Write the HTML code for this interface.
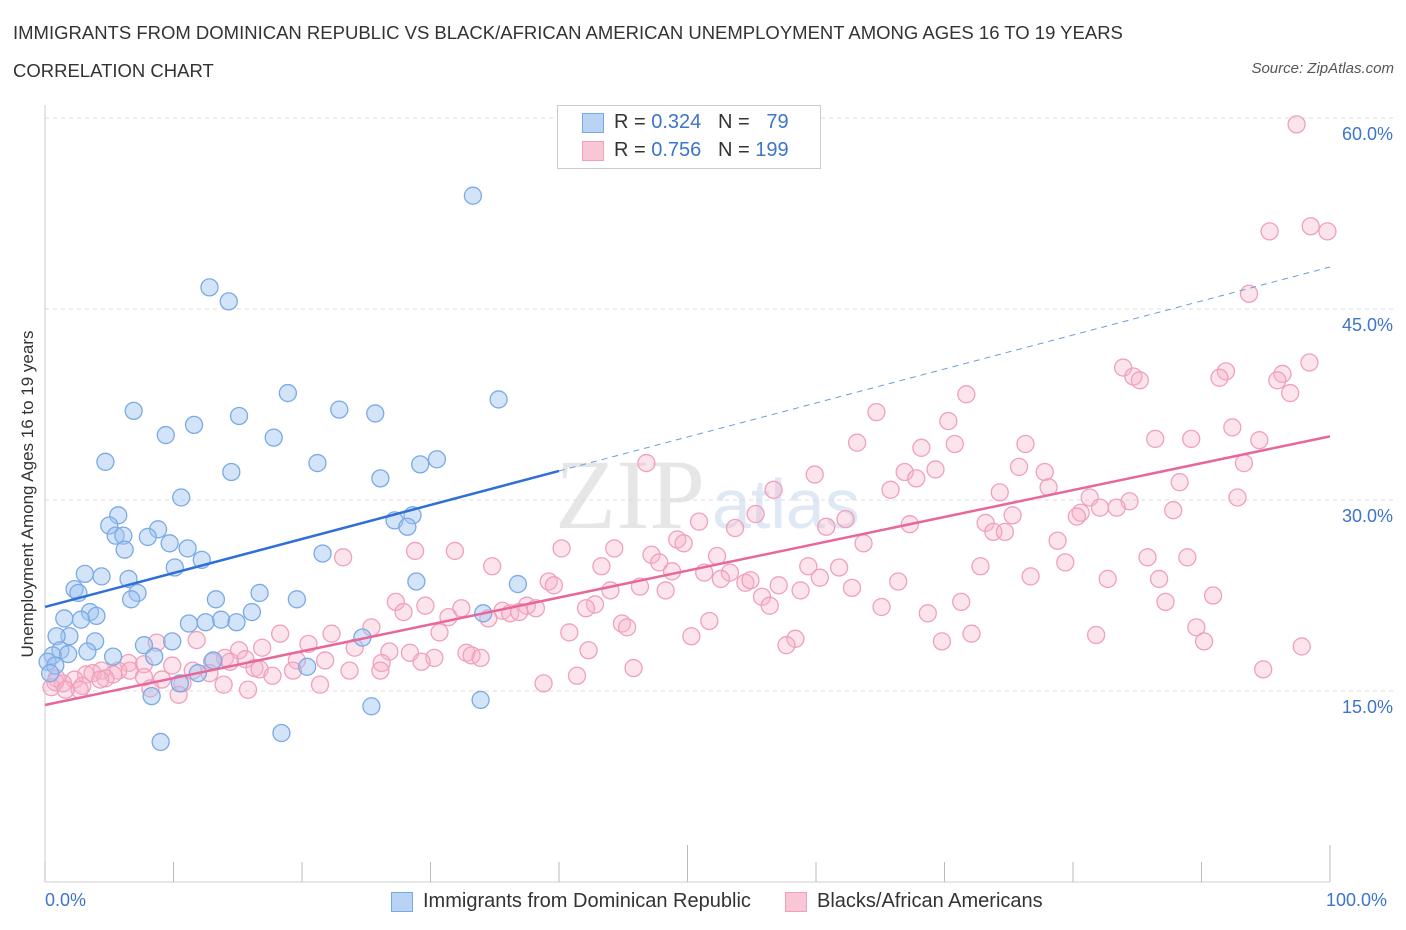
<!DOCTYPE html>
<html><head><meta charset="utf-8">
<style>
html,body{margin:0;padding:0;background:#fff;}
body{width:1406px;height:930px;position:relative;font-family:"Liberation Sans",sans-serif;overflow:hidden;}
.t{position:absolute;white-space:nowrap;}
</style></head>
<body>
<div class="t" style="left:13px;top:22px;font-size:18.5px;color:#333;">IMMIGRANTS FROM DOMINICAN REPUBLIC VS BLACK/AFRICAN AMERICAN UNEMPLOYMENT AMONG AGES 16 TO 19 YEARS</div>
<div class="t" style="left:13px;top:60px;font-size:18.5px;color:#333;">CORRELATION CHART</div>
<div class="t" style="right:12px;top:60px;font-size:15px;color:#555;font-style:italic;">Source: ZipAtlas.com</div>
<svg id="chart" width="1406" height="930" style="position:absolute;left:0;top:0">
<text x="555" y="528" font-size="100" fill="#e6e6e6" font-family="Liberation Serif,serif">ZIP</text>
<text x="712" y="528" font-size="70" fill="#dfe8f5" font-family="Liberation Sans,sans-serif">atlas</text>
<g id="grid"></g><g id="marks"></g><g id="trends"></g>
</svg>
<div class="t" style="left:28px;top:494px;font-size:17px;color:#333;transform:translate(-50%,-50%) rotate(-90deg);">Unemployment Among Ages 16 to 19 years</div>
<div style="position:absolute;left:557px;top:105px;width:262px;height:62px;border:1px solid #ccc;background:#fff;"></div>
<div style="position:absolute;left:582px;top:113px;width:20px;height:18px;background:#b9d3f5;border:1px solid #7aaae6;"></div>
<div class="t" style="left:614px;top:111px;font-size:20px;color:#333;">R = <span style="color:#3d74cc">0.324</span>&nbsp;&nbsp;&nbsp;N = &nbsp;&nbsp;<span style="color:#3d74cc">79</span></div>
<div style="position:absolute;left:582px;top:141px;width:20px;height:18px;background:#f9c6d5;border:1px solid #f0a0bc;"></div>
<div class="t" style="left:614px;top:139px;font-size:20px;color:#333;">R = <span style="color:#3d74cc">0.756</span>&nbsp;&nbsp;&nbsp;N = <span style="color:#3d74cc">199</span></div>
<div class="t" style="left:45px;top:890px;font-size:18px;color:#3d74cc;">0.0%</div>
<div class="t" style="left:1326px;top:890px;font-size:18px;color:#3d74cc;">100.0%</div>
<div style="position:absolute;left:391px;top:892px;width:20px;height:18px;background:#b9d3f5;border:1px solid #7aaae6;"></div>
<div class="t" style="left:423px;top:890px;font-size:20px;color:#333;">Immigrants from Dominican Republic</div>
<div style="position:absolute;left:785px;top:892px;width:20px;height:18px;background:#f9c6d5;border:1px solid #f0a0bc;"></div>
<div class="t" style="left:817px;top:890px;font-size:20px;color:#333;">Blacks/African Americans</div>
<script>
const yTicks=[15,30,45,60];
const yTickLabels=["15.0%","30.0%","45.0%","60.0%"];
const xTicks=[0,10,20,30,40,50,60,70,80,90,100];
const blueX=[33.3,12.8,14.3,18.9,6.9,22.9,25.7,35.3,15.1,11.6,9.4,17.8,4.7,21.2,30.5,29.2,14.5,26.1,10.6,5.7,28.6,27.2,28.2,5.0,8.8,5.5,6.1,8.0,9.7,11.1,6.2,21.6,12.2,10.1,3.1,4.4,6.5,28.9,36.8,2.3,2.6,7.2,16.7,6.7,13.3,19.6,16.1,3.5,4.0,1.5,2.8,34.1,13.7,14.9,11.2,12.5,1.9,0.9,3.9,24.7,9.9,7.7,1.2,3.3,0.6,1.8,5.3,8.5,0.2,0.8,13.1,20.4,0.4,11.9,10.5,8.3,25.4,33.9,9.0,18.4];
const blueY=[53.9,46.7,45.6,38.4,37.0,37.1,36.8,37.9,36.6,35.9,35.1,34.9,33.0,32.9,33.2,32.8,32.2,31.7,30.2,28.8,28.8,28.4,27.9,28.0,27.7,27.2,27.2,27.1,26.6,26.2,26.1,25.8,25.3,24.7,24.2,24.0,23.8,23.6,23.4,23.0,22.7,22.7,22.7,22.2,22.2,22.2,21.2,21.2,20.9,20.7,20.6,21.1,20.6,20.4,20.3,20.4,19.3,19.3,18.9,19.2,18.9,18.6,18.2,18.1,17.8,17.9,17.7,17.7,17.3,17.0,17.4,16.9,16.4,16.4,15.6,14.6,13.8,14.3,11.0,11.7];
const pinkX=[97.4,95.3,98.5,99.8,93.7,98.4,83.9,84.7,85.2,91.9,91.4,96.3,95.9,96.9,71.7,64.7,70.3,92.4,86.4,89.2,70.8,76.3,63.2,94.5,68.2,46.8,75.8,69.3,66.9,77.8,93.3,67.8,59.9,88.3,78.1,65.8,56.7,74.3,81.3,92.8,55.3,84.4,87.8,83.4,82.1,80.6,80.3,75.3,73.2,50.9,62.3,67.3,60.8,53.7,73.8,74.7,49.2,49.7,63.7,78.8,23.2,31.9,28.8,40.2,44.3,47.2,52.3,47.8,85.8,88.9,79.4,34.8,43.3,48.8,59.4,61.8,72.8,51.3,53.3,52.6,76.7,54.5,54.9,57.1,60.3,66.4,82.7,86.7,39.2,39.6,44.0,46.3,48.3,58.8,62.8,55.8,90.9,42.8,27.3,29.6,37.5,65.1,71.3,87.2,27.9,32.4,35.6,36.2,36.9,38.2,42.1,56.4,34.5,31.4,51.7,68.7,25.4,44.9,45.3,89.6,30.7,40.8,50.3,22.3,72.1,81.8,69.8,90.2,58.4,57.7,97.8,18.3,20.5,16.9,8.7,11.8,15.1,24.1,26.8,28.4,32.8,30.3,33.2,33.9,42.3,14.0,15.6,13.0,14.4,19.6,21.8,26.2,29.3,6.5,7.7,9.9,16.3,16.7,19.3,23.7,26.1,45.8,94.8,4.4,5.7,6.6,11.5,12.8,17.7,3.2,3.7,5.3,7.7,41.4,0.9,2.3,4.7,9.1,10.7,13.9,1.4,0.5,2.9,8.2,21.4,38.8,0.8,2.7,10.4,15.8,1.6,4.3];
const pinkY=[59.5,51.1,51.5,51.1,46.2,40.8,40.4,39.7,39.4,40.1,39.6,39.9,39.4,38.4,38.3,36.9,36.2,35.7,34.8,34.8,34.4,34.4,34.5,34.7,34.1,32.9,32.6,32.4,32.2,32.2,32.9,31.7,32.0,31.4,31.0,30.8,30.8,30.6,30.2,30.2,28.9,29.9,29.2,29.4,29.4,29.0,28.7,28.8,28.2,28.3,28.5,28.1,27.9,27.8,27.5,27.5,26.9,26.6,26.6,26.8,25.5,26.0,26.0,26.2,26.2,25.7,25.6,25.1,25.5,25.5,25.1,24.8,24.8,24.4,24.8,24.7,24.8,24.3,24.3,23.8,24.0,23.5,23.7,23.3,23.9,23.6,23.8,23.8,23.6,23.3,22.9,23.2,22.9,22.9,23.1,22.4,22.5,21.8,22.0,21.7,21.7,21.6,22.0,22.0,21.2,21.5,21.3,21.1,21.2,21.5,21.5,21.7,20.7,20.8,20.5,21.1,20.0,20.3,20.0,20.0,19.6,19.6,19.3,19.5,19.5,19.4,18.9,18.9,19.1,18.6,18.5,19.5,18.7,18.4,18.8,19.0,18.2,18.4,18.1,18.0,18.0,17.6,17.8,17.6,18.2,17.6,17.5,17.3,17.3,17.4,17.4,17.2,17.3,17.2,17.1,17.0,16.8,16.7,16.6,16.6,16.6,16.8,16.7,16.6,16.6,16.6,16.6,16.4,16.2,16.3,16.4,16.3,16.1,16.2,16.0,15.9,16.0,15.9,15.6,15.5,15.6,15.3,15.4,15.2,15.5,15.6,15.7,15.1,14.7,15.1,15.1,15.9];
const blueTrend=[21.6,48.3];
const pinkTrend=[13.9,35.0];
const NS="http://www.w3.org/2000/svg";
const X0=45,X1=1330,Y0=882,PPY=12.733;
function sx(v){return X0+(X1-X0)*v/100;}
function sy(v){return Y0-v*PPY;}
function mk(tag,attrs,parent){const e=document.createElementNS(NS,tag);for(const k in attrs)e.setAttribute(k,attrs[k]);parent.appendChild(e);return e;}
const grid=document.getElementById('grid'),marks=document.getElementById('marks'),trends=document.getElementById('trends');
yTicks.forEach((t,i)=>{
  const l=mk('line',{x1:X0,x2:1395,y1:sy(t),y2:sy(t),stroke:'#dcdcdc','stroke-dasharray':'4,4'},grid);
  
  
  const tx=mk('text',{x:1393,y:sy(t)+22,'text-anchor':'end','font-size':18,fill:'#3d74cc'},grid);
  tx.textContent=yTickLabels[i];
  
  
});
const ax=mk('line',{x1:X0,x2:X0,y1:105,y2:Y0,stroke:'#ccc'},grid);


const bx=mk('line',{x1:X0,x2:X1,y1:Y0,y2:Y0,stroke:'#ccc'},grid);


xTicks.forEach(t=>{
  const tl=mk('line',{x1:sx(t),x2:sx(t),y1:(t===50||t===100)?845:862,y2:Y0,stroke:'#bbb'},grid);
  
  
});
pinkX.forEach((x,i)=>{
  const c=mk('circle',{cx:sx(x),cy:sy(pinkY[i]),r:8.5,fill:'rgba(246,178,200,0.35)',stroke:'#f0a0bc','stroke-width':1.3},marks);
  
  
});
blueX.forEach((x,i)=>{
  const c=mk('circle',{cx:sx(x),cy:sy(blueY[i]),r:8.5,fill:'rgba(160,196,240,0.45)',stroke:'#7aaae6','stroke-width':1.3},marks);
  
  
});
function tv(tr,x){return tr[0]+(tr[1]-tr[0])*x/100;}
const bs=mk('line',{x1:sx(0),y1:sy(tv(blueTrend,0)),x2:sx(40),y2:sy(tv(blueTrend,40)),stroke:'#2f6fd6','stroke-width':2.5},trends);


const bd=mk('line',{x1:sx(40),y1:sy(tv(blueTrend,40)),x2:sx(100),y2:sy(tv(blueTrend,100)),stroke:'#6b9be0','stroke-width':1,'stroke-dasharray':'6,5'},trends);


const ps=mk('line',{x1:sx(0),y1:sy(tv(pinkTrend,0)),x2:sx(100),y2:sy(tv(pinkTrend,100)),stroke:'#e8679a','stroke-width':2.5},trends);


</script>
</body></html>
